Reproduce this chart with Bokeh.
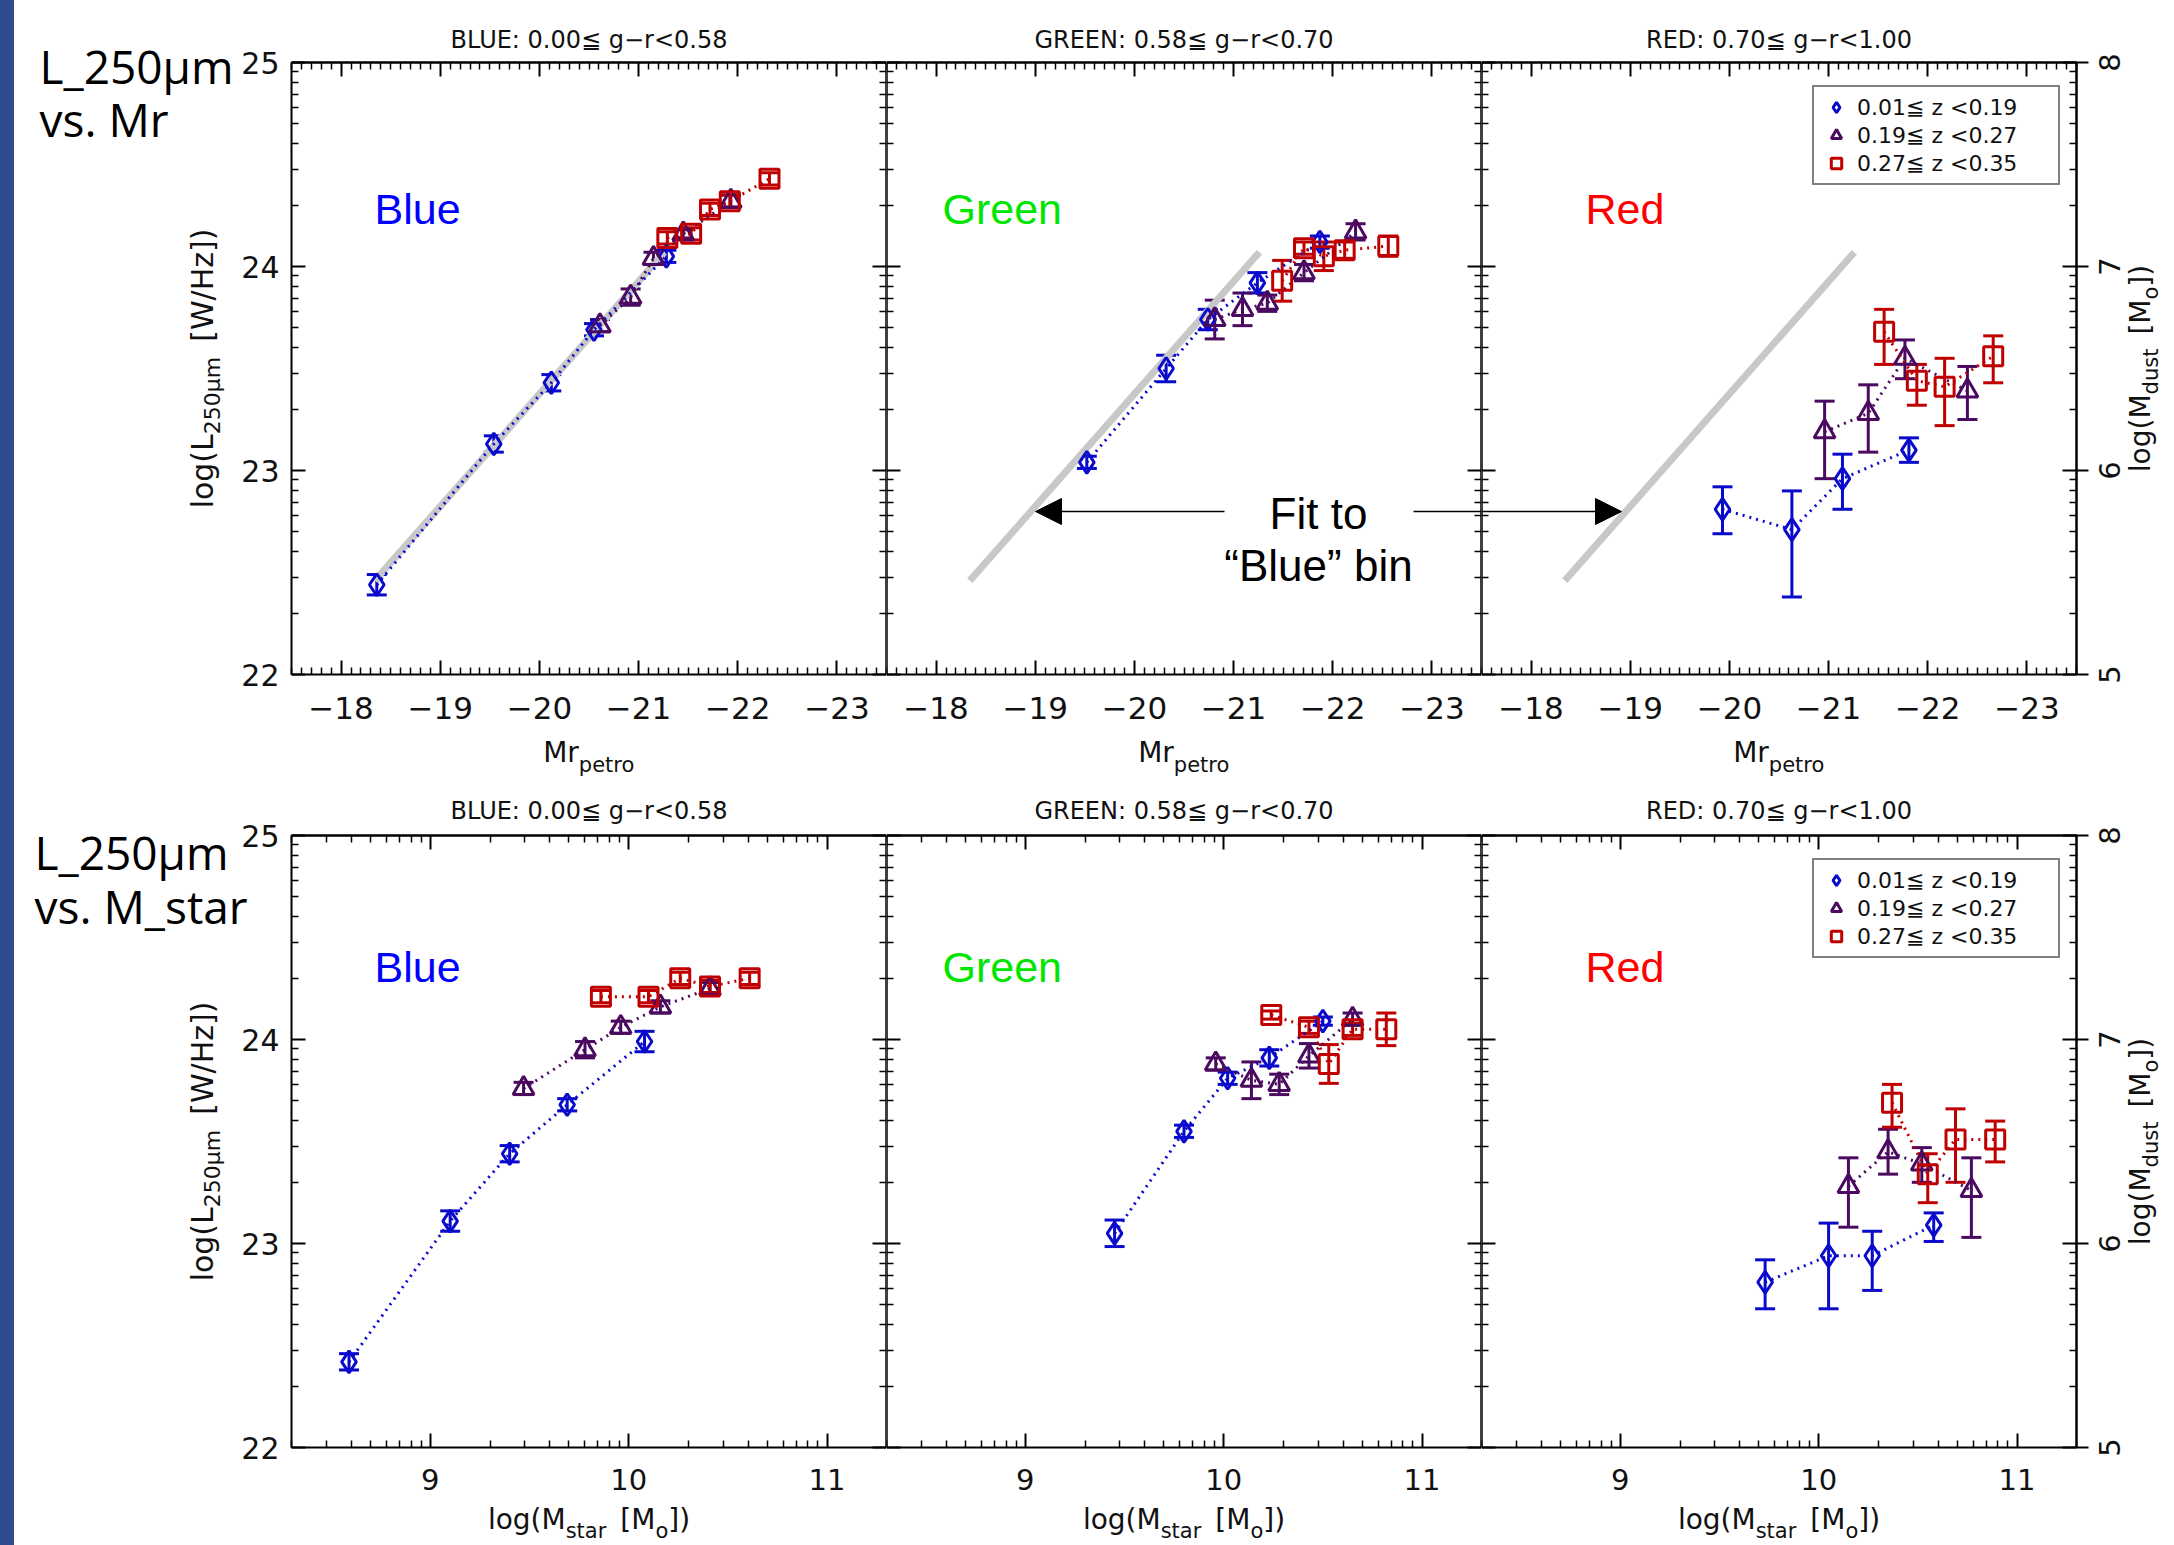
import math
from bokeh.plotting import figure
from bokeh.models import (Range1d, LinearAxis, FixedTicker, Label, Whisker, TeeHead,
                          Arrow, NormalHead, Legend, LegendItem, ColumnDataSource, Div)
from bokeh.layouts import row, column
from bokeh.embed import file_html
from bokeh.resources import INLINE

# ---------------------------------------------------------------- data
COLOR_BIN_TITLES = ["BLUE: 0.00≦ g−r<0.58", "GREEN: 0.58≦ g−r<0.70", "RED: 0.70≦ g−r<1.00"]
COLOR_BIN_NAMES = ["Blue", "Green", "Red"]
Z_BIN_LABELS = ["0.01≦ z <0.19", "0.19≦ z <0.27", "0.27≦ z <0.35"]
ROW_TITLES_TOP = ["L_250μm", "vs. Mr"]
ROW_TITLES_BOT = ["L_250μm", "vs. M_star"]

MR_TICKS = [-18, -19, -20, -21, -22, -23]
MSTAR_TICKS = [9, 10, 11]
LOGL_TICKS = [22, 23, 24, 25]
MDUST_TICKS = [5, 6, 7, 8]

# Top row : log L250 vs Mr_petro  (symmetric errors)
MR_BLUE_Z1_X = [-18.36, -19.54, -20.12, -20.55, -21.28]
MR_BLUE_Z1_Y = [22.44, 23.13, 23.43, 23.69, 24.05]
MR_BLUE_Z1_E = [0.05, 0.04, 0.04, 0.03, 0.03]
MR_BLUE_Z2_X = [-20.61, -20.92, -21.15, -21.45, -21.93]
MR_BLUE_Z2_Y = [23.71, 23.85, 24.04, 24.16, 24.32]
MR_BLUE_Z2_E = [0.03, 0.04, 0.03, 0.02, 0.03]
MR_BLUE_Z3_X = [-21.29, -21.53, -21.72, -21.92, -22.32]
MR_BLUE_Z3_Y = [24.14, 24.16, 24.28, 24.32, 24.43]
MR_BLUE_Z3_E = [0.03, 0.03, 0.03, 0.03, 0.03]

MR_GREEN_Z1_X = [-19.52, -20.32, -20.74, -21.24, -21.87]
MR_GREEN_Z1_Y = [23.04, 23.50, 23.74, 23.92, 24.12]
MR_GREEN_Z1_E = [0.03, 0.065, 0.05, 0.05, 0.03]
MR_GREEN_Z2_X = [-20.81, -21.09, -21.34, -21.71, -22.23]
MR_GREEN_Z2_Y = [23.74, 23.79, 23.82, 23.97, 24.17]
MR_GREEN_Z2_E = [0.095, 0.08, 0.04, 0.04, 0.04]
MR_GREEN_Z3_X = [-21.49, -21.71, -21.91, -22.12, -22.56]
MR_GREEN_Z3_Y = [23.93, 24.09, 24.05, 24.08, 24.10]
MR_GREEN_Z3_E = [0.10, 0.03, 0.07, 0.04, 0.05]

# (asymmetric errors: lower / upper ends)
MR_RED_Z1_X = [-19.93, -20.63, -21.14, -21.81]
MR_RED_Z1_Y = [22.81, 22.71, 22.96, 23.10]
MR_RED_Z1_LO = [22.69, 22.38, 22.81, 23.04]
MR_RED_Z1_HI = [22.92, 22.90, 23.08, 23.16]
MR_RED_Z2_X = [-20.96, -21.40, -21.77, -22.40]
MR_RED_Z2_Y = [23.19, 23.28, 23.55, 23.39]
MR_RED_Z2_LO = [22.96, 23.09, 23.45, 23.25]
MR_RED_Z2_HI = [23.34, 23.42, 23.64, 23.51]
MR_RED_Z3_X = [-21.56, -21.89, -22.17, -22.66]
MR_RED_Z3_Y = [23.68, 23.44, 23.41, 23.56]
MR_RED_Z3_LO = [23.52, 23.32, 23.22, 23.43]
MR_RED_Z3_HI = [23.79, 23.52, 23.55, 23.66]

# Bottom row : log L250 vs log Mstar
MS_BLUE_Z1_X = [8.59, 9.10, 9.40, 9.69, 10.08]
MS_BLUE_Z1_Y = [22.42, 23.11, 23.44, 23.68, 23.99]
MS_BLUE_Z1_E = [0.04, 0.05, 0.04, 0.03, 0.05]
MS_BLUE_Z2_X = [9.47, 9.78, 9.96, 10.16, 10.41]
MS_BLUE_Z2_Y = [23.76, 23.95, 24.06, 24.16, 24.25]
MS_BLUE_Z2_E = [0.03, 0.04, 0.03, 0.03, 0.03]
MS_BLUE_Z3_X = [9.86, 10.10, 10.26, 10.41, 10.61]
MS_BLUE_Z3_Y = [24.21, 24.21, 24.30, 24.26, 24.30]
MS_BLUE_Z3_E = [0.03, 0.03, 0.03, 0.03, 0.03]

MS_GREEN_Z1_X = [9.45, 9.80, 10.02, 10.23, 10.50]
MS_GREEN_Z1_Y = [23.05, 23.55, 23.81, 23.91, 24.09]
MS_GREEN_Z1_E = [0.065, 0.03, 0.03, 0.04, 0.02]
MS_GREEN_Z2_X = [9.96, 10.14, 10.28, 10.43, 10.65]
MS_GREEN_Z2_Y = [23.88, 23.80, 23.78, 23.92, 24.10]
MS_GREEN_Z2_E = [0.03, 0.09, 0.05, 0.06, 0.03]
MS_GREEN_Z3_X = [10.24, 10.43, 10.53, 10.65, 10.82]
MS_GREEN_Z3_Y = [24.12, 24.06, 23.88, 24.05, 24.05]
MS_GREEN_Z3_E = [0.02, 0.03, 0.095, 0.03, 0.08]

MS_RED_Z1_X = [9.73, 10.05, 10.27, 10.58]
MS_RED_Z1_Y = [22.81, 22.94, 22.94, 23.09]
MS_RED_Z1_LO = [22.68, 22.68, 22.77, 23.01]
MS_RED_Z1_HI = [22.92, 23.10, 23.06, 23.15]
MS_RED_Z2_X = [10.15, 10.35, 10.52, 10.77]
MS_RED_Z2_Y = [23.28, 23.45, 23.39, 23.26]
MS_RED_Z2_LO = [23.08, 23.34, 23.30, 23.03]
MS_RED_Z2_HI = [23.42, 23.56, 23.47, 23.42]
MS_RED_Z3_X = [10.37, 10.55, 10.69, 10.89]
MS_RED_Z3_Y = [23.69, 23.34, 23.51, 23.51]
MS_RED_Z3_LO = [23.57, 23.20, 23.30, 23.40]
MS_RED_Z3_HI = [23.78, 23.44, 23.66, 23.60]

# Linear fit to the "Blue" bin (top row), end points
FIT_X = [-18.34, -21.26]
FIT_Y = [22.46, 24.07]
FIT_TEXT = ["Fit to", "“Blue” bin"]

# axis titles as (text, is_subscript) pieces; None = word gap
XLABEL_TOP = [("Mr", False), ("petro", True)]
XLABEL_BOT = [("log(M", False), ("star", True), None, ("[M", False), ("o", True), ("])", False)]
YLABEL_LEFT = [("log(L", False), ("250μm", True), None, ("[W/Hz])", False)]
YLABEL_RIGHT = [("log(M", False), ("dust", True), None, ("[M", False), ("o", True), ("])", False)]

# ---------------------------------------------------------------- style / geometry
STRIP_W = 14
BOX_W, BOX_H = 595, 612              # size of each plotted panel box (px)
COL_W = [872, 595, 693]              # canvas widths
COL_BOX_LEFT = [277, 0, 0]           # box left offset inside canvas
ROW_H = [790, 755]                   # canvas heights
ROW_BOX_BOTTOM = [116, 98]           # box bottom offset from canvas bottom
MR_RANGE = (-17.5, -23.5)
MS_RANGE = (8.3, 11.3)
L_RANGE = (22, 25)
D_RANGE = (5, 8)

Z_COLORS = ["#0A0ACC", "#4B0A60", "#C00000"]
Z_MARKERS = ["diamond", "triangle", "square"]
Z_SIZES = [22, 21, 19]
NAME_COLORS = ["#0000FF", "#00E600", "#FF0000"]
NAME_DX = [83, 56, 104]
TICK_FONT = "DejaVu Sans"
TXT = "#111111"

# DejaVu Sans advance widths (em) used to lay out composite axis titles
ADV = {"l": .278, "o": .612, "g": .635, "(": .390, ")": .390, "M": .863, "s": .521, "t": .392,
       "a": .613, "r": .411, "[": .390, "]": .390, "L": .557, "2": .636, "5": .636, "0": .636,
       "μ": .636, "m": .974, "W": .989, "/": .337, "H": .752, "z": .525, "d": .635, "u": .634,
       "p": .635, "e": .615}


def text_w(t, size):
    return sum(ADV.get(ch, .6) for ch in t) * size


def sym(x, y, e):
    return (x, y, [a - b for a, b in zip(y, e)], [a + b for a, b in zip(y, e)])


TOP_SERIES = [
    [sym(MR_BLUE_Z1_X, MR_BLUE_Z1_Y, MR_BLUE_Z1_E), sym(MR_BLUE_Z2_X, MR_BLUE_Z2_Y, MR_BLUE_Z2_E),
     sym(MR_BLUE_Z3_X, MR_BLUE_Z3_Y, MR_BLUE_Z3_E)],
    [sym(MR_GREEN_Z1_X, MR_GREEN_Z1_Y, MR_GREEN_Z1_E), sym(MR_GREEN_Z2_X, MR_GREEN_Z2_Y, MR_GREEN_Z2_E),
     sym(MR_GREEN_Z3_X, MR_GREEN_Z3_Y, MR_GREEN_Z3_E)],
    [(MR_RED_Z1_X, MR_RED_Z1_Y, MR_RED_Z1_LO, MR_RED_Z1_HI), (MR_RED_Z2_X, MR_RED_Z2_Y, MR_RED_Z2_LO, MR_RED_Z2_HI),
     (MR_RED_Z3_X, MR_RED_Z3_Y, MR_RED_Z3_LO, MR_RED_Z3_HI)],
]
BOT_SERIES = [
    [sym(MS_BLUE_Z1_X, MS_BLUE_Z1_Y, MS_BLUE_Z1_E), sym(MS_BLUE_Z2_X, MS_BLUE_Z2_Y, MS_BLUE_Z2_E),
     sym(MS_BLUE_Z3_X, MS_BLUE_Z3_Y, MS_BLUE_Z3_E)],
    [sym(MS_GREEN_Z1_X, MS_GREEN_Z1_Y, MS_GREEN_Z1_E), sym(MS_GREEN_Z2_X, MS_GREEN_Z2_Y, MS_GREEN_Z2_E),
     sym(MS_GREEN_Z3_X, MS_GREEN_Z3_Y, MS_GREEN_Z3_E)],
    [(MS_RED_Z1_X, MS_RED_Z1_Y, MS_RED_Z1_LO, MS_RED_Z1_HI), (MS_RED_Z2_X, MS_RED_Z2_Y, MS_RED_Z2_LO, MS_RED_Z2_HI),
     (MS_RED_Z3_X, MS_RED_Z3_Y, MS_RED_Z3_LO, MS_RED_Z3_HI)],
]


def log_minors(lo, hi):
    lo, hi = min(lo, hi), max(lo, hi)
    out = []
    for n in range(math.floor(lo) - 1, math.ceil(hi) + 1):
        for k in range(2, 10):
            v = n + math.log10(k)
            if lo < v < hi:
                out.append(v)
    return out


def lin_minors(a, b, step=0.1):
    lo, hi = min(a, b), max(a, b)
    out = []
    i = math.ceil(lo / step - 1e-9)
    while i * step < hi + 1e-9:
        v = round(i * step, 6)
        if abs(v - round(v)) > 1e-6:
            out.append(v)
        i += 1
    return out


LINE = dict(axis_line_width=2, axis_line_color="black",
            major_tick_line_width=2, major_tick_line_color="black",
            minor_tick_line_color="black", major_tick_out=0, minor_tick_out=0)


def labeled_axis(p, side, majors, minors, loc, bounds, size, standoff):
    kw = dict(LINE)
    kw.update(major_tick_in=14, minor_tick_in=7, minor_tick_line_width=1.5,
              major_label_text_font=TICK_FONT, major_label_text_color=TXT,
              major_label_text_font_size=f"{size}px", major_label_standoff=standoff,
              fixed_location=loc, bounds=bounds)
    p.add_layout(LinearAxis(ticker=FixedTicker(ticks=majors, minor_ticks=minors), **kw), side)


def bare_axis(p, side, majors, minors, loc, bounds, range_name=None, major_out=0):
    # tick marks only (no tick labels): majors drawn as long "minor" ticks
    for ticks, length, width, out in ((majors, 14, 2, major_out), (minors, 7, 1.5, 0)):
        kw = dict(LINE)
        kw.update(major_tick_in=0, minor_tick_in=length, minor_tick_out=out,
                  minor_tick_line_width=width, fixed_location=loc, bounds=bounds)
        if range_name:
            kw["y_range_name"] = range_name
        p.add_layout(LinearAxis(ticker=FixedTicker(ticks=[], minor_ticks=ticks), **kw), side)


def make_panel(rowi, col):
    top = rowi == 0
    xr = MR_RANGE if top else MS_RANGE
    series = (TOP_SERIES if top else BOT_SERIES)[col]
    W, H = COL_W[col], ROW_H[rowi]
    bl, bb = COL_BOX_LEFT[col], ROW_BOX_BOTTOM[rowi]
    sx = (xr[1] - xr[0]) / BOX_W
    sy = (L_RANGE[1] - L_RANGE[0]) / BOX_H

    def X(px):      # px measured from the box's left edge
        return xr[0] + px * sx

    def Y(px):      # px measured from the box's bottom edge
        return L_RANGE[0] + px * sy

    p = figure(width=W, height=H,
               x_range=Range1d(X(-bl), X(W - bl)), y_range=Range1d(Y(-bb), Y(H - bb)),
               x_axis_location=None, y_axis_location=None, title_location=None,
               toolbar_location=None, output_backend="svg", min_border=0,
               outline_line_color=None, background_fill_color="white",
               border_fill_color="white")
    for g in p.grid:
        g.visible = False

    xb = (min(xr), max(xr))
    xmaj = MR_TICKS if top else MSTAR_TICKS
    xmin = lin_minors(*xr) if top else log_minors(*xr)
    ymin = log_minors(*L_RANGE)

    # ---- axes (box)
    labeled_axis(p, "below", xmaj, xmin, L_RANGE[0], xb, 31 if top else 29, 22 if top else 21)
    bare_axis(p, "above", xmaj, xmin, L_RANGE[1], xb)
    if col == 0:
        labeled_axis(p, "left", LOGL_TICKS, ymin, xr[0], L_RANGE, 30, 12)
    else:
        bare_axis(p, "left", LOGL_TICKS, ymin, xr[0], L_RANGE)
    if col == 2:
        p.extra_y_ranges = {"dust": Range1d(D_RANGE[0] - bb * sy, D_RANGE[0] + (H - bb) * sy)}
        bare_axis(p, "right", MDUST_TICKS, log_minors(*D_RANGE), xr[1], D_RANGE,
                  range_name="dust", major_out=12)
        for t in MDUST_TICKS:
            p.add_layout(Label(x=X(BOX_W + 33), y=t, y_range_name="dust", text=str(t),
                               text_font=TICK_FONT, text_font_size="29px", text_color=TXT,
                               text_align="center", text_baseline="middle", angle=math.pi / 2))
    else:
        bare_axis(p, "right", LOGL_TICKS, ymin, xr[1], L_RANGE)

    # ---- fit line
    if top:
        p.line(FIT_X, FIT_Y, line_color="#C8C8C8", line_width=7)

    # ---- data
    rends = []
    for zi, (xs, ys, lo, hi) in enumerate(series):
        c = Z_COLORS[zi]
        src = ColumnDataSource(dict(x=xs, y=ys, lo=lo, hi=hi))
        p.line("x", "y", source=src, line_color=c, line_width=3, line_dash="2 5")
        p.add_layout(Whisker(source=src, base="x", lower="lo", upper="hi", dimension="height",
                             line_color=c, line_width=3,
                             upper_head=TeeHead(size=20, line_color=c, line_width=3),
                             lower_head=TeeHead(size=20, line_color=c, line_width=3)))
        rends.append(p.scatter("x", "y", source=src, marker=Z_MARKERS[zi], size=Z_SIZES[zi],
                               line_color=c, line_width=3, fill_color=None))

    if col == 2:
        leg = Legend(items=[LegendItem(label=Z_BIN_LABELS[i], renderers=[rends[i]]) for i in range(3)],
                     location=(bl + 331, bb + 489), margin=0, padding=7,
                     spacing=2, glyph_width=30, glyph_height=26, label_height=26, label_standoff=6,
                     label_width=194, label_text_font=TICK_FONT, label_text_font_size="22px",
                     label_text_color=TXT, border_line_color="black", border_line_width=2.5,
                     background_fill_color="white", background_fill_alpha=1)
        p.add_layout(leg)

    # ---- texts
    def lab(px, py, text, size, font=TICK_FONT, color=TXT, align="left", angle=0):
        p.add_layout(Label(x=X(px), y=Y(py), text=text, text_font=font,
                           text_font_size=f"{size}px", text_color=color, text_align=align,
                           text_baseline="middle", angle=angle))

    def composite(pieces, main, sub, center, across, sub_shift, vertical=False):
        widths = [0.5 * main if pc is None else text_w(pc[0], sub if pc[1] else main)
                  for pc in pieces]
        pos = center - sum(widths) / 2
        for pc, w in zip(pieces, widths):
            if pc is not None:
                t, is_sub = pc
                off = across + (sub_shift if is_sub else 0)
                if vertical:
                    lab(off, pos, t, sub if is_sub else main, angle=math.pi / 2)
                else:
                    lab(pos, off, t, sub if is_sub else main)
            pos += w

    lab(BOX_W / 2, BOX_H + (23 if top else 25), COLOR_BIN_TITLES[col], 24, align="center")
    lab(NAME_DX[col], 466 if top else 481, COLOR_BIN_NAMES[col], 43,
        font="Liberation Sans", color=NAME_COLORS[col])

    if top:
        composite(XLABEL_TOP, 28, 21, BOX_W / 2, -78, -12)
    else:
        composite(XLABEL_BOT, 28, 21, BOX_W / 2, -72, -11)

    if col == 0:
        composite(YLABEL_LEFT, 30, 22, BOX_H / 2, -89, 10, vertical=True)
        titles = ROW_TITLES_TOP if top else ROW_TITLES_BOT
        dx = -252 if top else -257
        ys = (609, 556) if top else (596, 542)
        for t, yy in zip(titles, ys):
            lab(dx, yy, t, 46, font="Open Sans", color="black")
    if col == 2:
        composite(YLABEL_RIGHT, 28, 21, BOX_H / 2, 659, 10, vertical=True)

    # ---- "fit to Blue bin" annotation
    if top and col == 1:
        lab(432, 161, FIT_TEXT[0], 44, font="Liberation Sans", color="black", align="center")
        lab(432, 109, FIT_TEXT[1], 44, font="Liberation Sans", color="black", align="center")
        p.add_layout(Arrow(end=NormalHead(size=26, fill_color="black", line_color="black"),
                           x_start=X(338), y_start=Y(163), x_end=X(149), y_end=Y(163),
                           line_width=1.5, line_color="black"))
        p.add_layout(Arrow(end=None, x_start=X(527), y_start=Y(163), x_end=X(BOX_W), y_end=Y(163),
                           line_width=1.5, line_color="black"))
    if top and col == 2:
        p.add_layout(Arrow(end=NormalHead(size=26, fill_color="black", line_color="black"),
                           x_start=X(0), y_start=Y(163), x_end=X(140), y_end=Y(163),
                           line_width=1.5, line_color="black"))
    return p


panels = [[make_panel(r, c) for c in range(3)] for r in range(2)]
strip = Div(text="", width=STRIP_W, height=sum(ROW_H), margin=0,
            styles={"background-color": "#2E4B8E"})
layout = row(strip, column(row(*panels[0], spacing=0), row(*panels[1], spacing=0), spacing=0),
             spacing=0)

open("out.html", "w").write(file_html(layout, INLINE))
